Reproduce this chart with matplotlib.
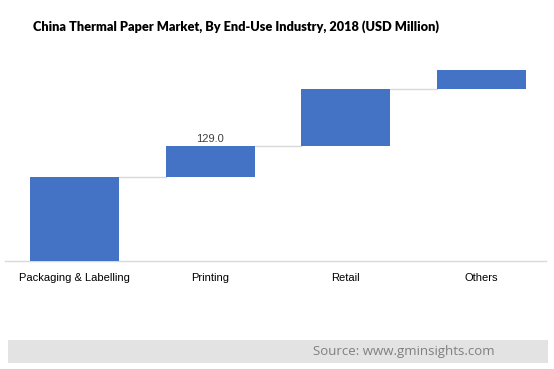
import matplotlib
matplotlib.use("Agg")
import matplotlib.pyplot as plt
from matplotlib.patches import Rectangle

categories = ["Packaging & Labelling", "Printing", "Retail", "Others"]
values = [354.0, 129.0, 238.0, 82.0]
labeled = [False, True, False, False]

W, H = 554, 369
fig = plt.figure(figsize=(W / 100, H / 100), dpi=100)

# axes placement in pixels
left_px, right_px, bottom_px, top_px = 7, 549, 260.7, 60
ax = fig.add_axes([left_px / W, 1 - bottom_px / H, (right_px - left_px) / W, (bottom_px - top_px) / H])

total = sum(values)
scale = total / (bottom_px - 70)
ax.set_xlim(-0.5, len(categories) - 0.5)
ax.set_ylim(0, (bottom_px - top_px) * scale)

bar_color = "#4472C4"
width = 0.66
bottoms = []
cum = 0
for v in values:
    bottoms.append(cum)
    cum += v
xs = list(range(len(categories)))
ax.bar(xs, values, bottom=bottoms, width=width, color=bar_color, zorder=3)

# connectors
for i in range(len(values) - 1):
    y = bottoms[i] + values[i]
    ax.plot([i + width / 2, i + 1 - width / 2], [y, y], color="#d9d9d9", lw=1, zorder=2)
ax.plot([-0.515, 3.48], [0, 0], color="#d9d9d9", lw=1, zorder=2, clip_on=False)

for i, (v, lab) in enumerate(zip(values, labeled)):
    if lab:
        ax.text(i, bottoms[i] + v + 8, f"{v:.1f}", ha="center", va="bottom",
                fontsize=8, color="#404040", family="Liberation Sans")

ax.set_xticks(xs)
ax.set_xticklabels(categories, fontsize=8, color="#000000", family="Liberation Sans")
ax.tick_params(axis="x", length=0, pad=9)
ax.set_yticks([])
for s in ax.spines.values():
    s.set_visible(False)

fig.text(33 / W, 1 - 27 / H, "China Thermal Paper Market, By End-Use Industry, 2018 (USD Million)",
         fontsize=9.2, fontweight="heavy", family="Lato", ha="left", va="center", color="#000000")

fig.patches.append(Rectangle((8 / W, 1 - 363 / H), 540 / W, 23 / H, transform=fig.transFigure,
                             facecolor="#e3e3e3", edgecolor="none"))
fig.text(495 / W, 1 - 351 / H, "Source: www.gminsights.com", fontsize=9.5, family="Open Sans",
         color="#7f7f7f", ha="right", va="center")

fig.savefig("out.png", dpi=100)
